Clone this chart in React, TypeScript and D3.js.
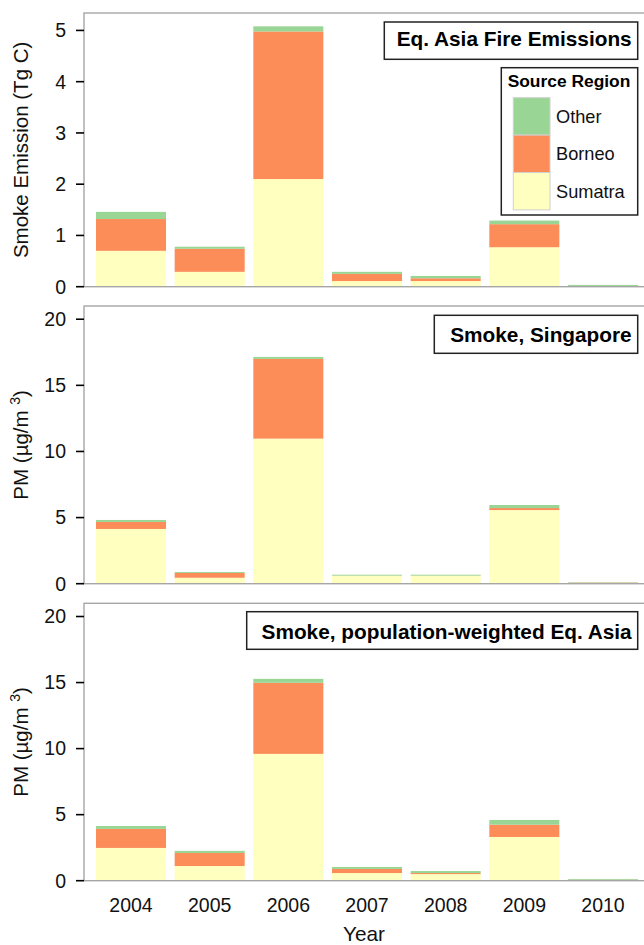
import React from 'react';
import * as d3 from 'd3';

const years = ['2004', '2005', '2006', '2007', '2008', '2009', '2010'];
const regions = ['Sumatra', 'Borneo', 'Other'];
const regionColors = ['#ffffbf', '#fc8d59', '#99d594'];

// Panel 1: Eq. Asia fire emissions (Tg C)
const emisSumatra = [0.70, 0.29, 2.10, 0.11, 0.11, 0.77, 0.005];
const emisBorneo = [0.62, 0.45, 2.88, 0.14, 0.055, 0.45, 0.005];
const emisOther = [0.14, 0.04, 0.10, 0.04, 0.045, 0.07, 0.025];

// Panel 2: Smoke PM, Singapore (µg/m3)
const sgpSumatra = [4.14, 0.45, 10.97, 0.60, 0.60, 5.57, 0.02];
const sgpBorneo = [0.53, 0.36, 6.03, 0.01, 0.01, 0.15, 0.06];
const sgpOther = [0.15, 0.07, 0.15, 0.07, 0.07, 0.23, 0.03];

// Panel 3: Smoke PM, population-weighted Eq. Asia (µg/m3)
const popSumatra = [2.48, 1.11, 9.60, 0.58, 0.50, 3.31, 0.02];
const popBorneo = [1.44, 0.99, 5.38, 0.31, 0.08, 0.93, 0.05];
const popOther = [0.22, 0.16, 0.30, 0.15, 0.15, 0.36, 0.06];

const ticks1 = [0, 1, 2, 3, 4, 5];
const ticks2 = [0, 5, 10, 15, 20];
const ticks3 = [0, 5, 10, 15, 20];

const FONT = "'Liberation Sans', Arial, Helvetica, sans-serif";

type Row = { year: string; Sumatra: number; Borneo: number; Other: number };

function makeRows(s: number[], b: number[], o: number[]): Row[] {
  return years.map((y, i) => ({ year: y, Sumatra: s[i], Borneo: b[i], Other: o[i] }));
}

const panels = [
  {
    rows: makeRows(emisSumatra, emisBorneo, emisOther),
    ticks: ticks1,
    yMax: 5.34,
    top: 13,
    bottom: 286.7,
    title: 'Eq. Asia Fire Emissions',
    box: { x: 384.3, y: 22, w: 253.4, h: 37.3, base: 46 },
    ylabel: 'emis',
    legend: true,
  },
  {
    rows: makeRows(sgpSumatra, sgpBorneo, sgpOther),
    ticks: ticks2,
    yMax: 21,
    top: 306,
    bottom: 583.7,
    title: 'Smoke, Singapore',
    box: { x: 434.3, y: 315.3, w: 203.4, h: 38, base: 342 },
    ylabel: 'pm',
    legend: false,
  },
  {
    rows: makeRows(popSumatra, popBorneo, popOther),
    ticks: ticks3,
    yMax: 21,
    top: 603.3,
    bottom: 880.7,
    title: 'Smoke, population-weighted Eq. Asia',
    box: { x: 246.7, y: 611.7, w: 391, h: 37.6, base: 638.5 },
    ylabel: 'pm',
    legend: false,
  },
];

const PLOT_LEFT = 84;
const PLOT_RIGHT = 646;

const x = d3.scaleBand<string>().domain(years).range([96, 638]).paddingInner(0.11).paddingOuter(0);
const stack = d3.stack<Row>().keys(regions);

export default function App() {
  return (
    <div style={{ position: 'absolute', left: 0, top: 0 }}>
      <svg width={644} height={945} style={{ display: 'block', fontFamily: FONT }}>
        <rect x={0} y={0} width={644} height={945} fill="#fff" />
        {panels.map((p, pi) => {
          const y = d3.scaleLinear().domain([0, p.yMax]).range([p.bottom, p.top]);
          const series = stack(p.rows);
          const mid = (p.top + p.bottom) / 2;
          return (
            <g key={pi}>
              {series.map((s, si) => (
                <g key={si} fill={regionColors[si]}>
                  {s.map((d, di) => (
                    <rect
                      key={di}
                      x={x(years[di])}
                      width={x.bandwidth()}
                      y={y(d[1])}
                      height={Math.max(0, y(d[0]) - y(d[1]))}
                    />
                  ))}
                </g>
              ))}
              <rect
                x={PLOT_LEFT}
                y={p.top}
                width={PLOT_RIGHT - PLOT_LEFT}
                height={p.bottom - p.top}
                fill="none"
                stroke="#a6a6a6"
                strokeWidth={1.4}
              />
              {p.ticks.map((t) => (
                <g key={t}>
                  <line x1={76} x2={PLOT_LEFT} y1={y(t)} y2={y(t)} stroke="#000" strokeWidth={1.6} />
                  <text x={66} y={y(t)} dy="0.35em" textAnchor="end" fontSize={19.5} fill="#111">
                    {t}
                  </text>
                </g>
              ))}
              <text
                transform={`translate(27.5,${mid}) rotate(-90)`}
                textAnchor="middle"
                fontSize={20.5}
                fill="#111"
              >
                {p.ylabel === 'emis' ? (
                  'Smoke Emission (Tg C)'
                ) : (
                  <>
                    <tspan>PM (µg/m </tspan>
                    <tspan fontSize={14} dy={-8}>3</tspan>
                    <tspan dy={8}>)</tspan>
                  </>
                )}
              </text>
              <rect
                x={p.box.x}
                y={p.box.y}
                width={p.box.w}
                height={p.box.h}
                fill="#fff"
                stroke="#222"
                strokeWidth={1.5}
              />
              <text
                x={p.box.x + p.box.w - 6}
                y={p.box.base}
                textAnchor="end"
                fontSize={20.8}
                fontWeight="bold"
                fill="#000"
              >
                {p.title}
              </text>
              {p.legend && (
                <g>
                  <rect x={501.3} y={67.7} width={136.4} height={147.3} fill="#fff" stroke="#222" strokeWidth={1.5} />
                  <text x={569} y={87.3} textAnchor="middle" fontSize={17.4} fontWeight="bold" fill="#000">
                    Source Region
                  </text>
                  {[...regions].reverse().map((r, i) => {
                    const ci = regions.indexOf(r);
                    const sy = 97.7 + i * 37.4;
                    return (
                      <g key={r}>
                        <rect x={513.3} y={sy} width={36.7} height={37.4} fill={regionColors[ci]} stroke="#d0d0d0" strokeWidth={1} />
                        <text x={556} y={sy + 18.7} dy="0.35em" fontSize={18.2} fill="#111">
                          {r}
                        </text>
                      </g>
                    );
                  })}
                </g>
              )}
              {pi === panels.length - 1 &&
                years.map((yr) => (
                  <text
                    key={yr}
                    x={(x(yr) as number) + x.bandwidth() / 2}
                    y={911.7}
                    textAnchor="middle"
                    fontSize={19.5}
                    fill="#111"
                  >
                    {yr}
                  </text>
                ))}
            </g>
          );
        })}
        <text x={364} y={941} textAnchor="middle" fontSize={20.8} fill="#111">
          Year
        </text>
      </svg>
    </div>
  );
}
